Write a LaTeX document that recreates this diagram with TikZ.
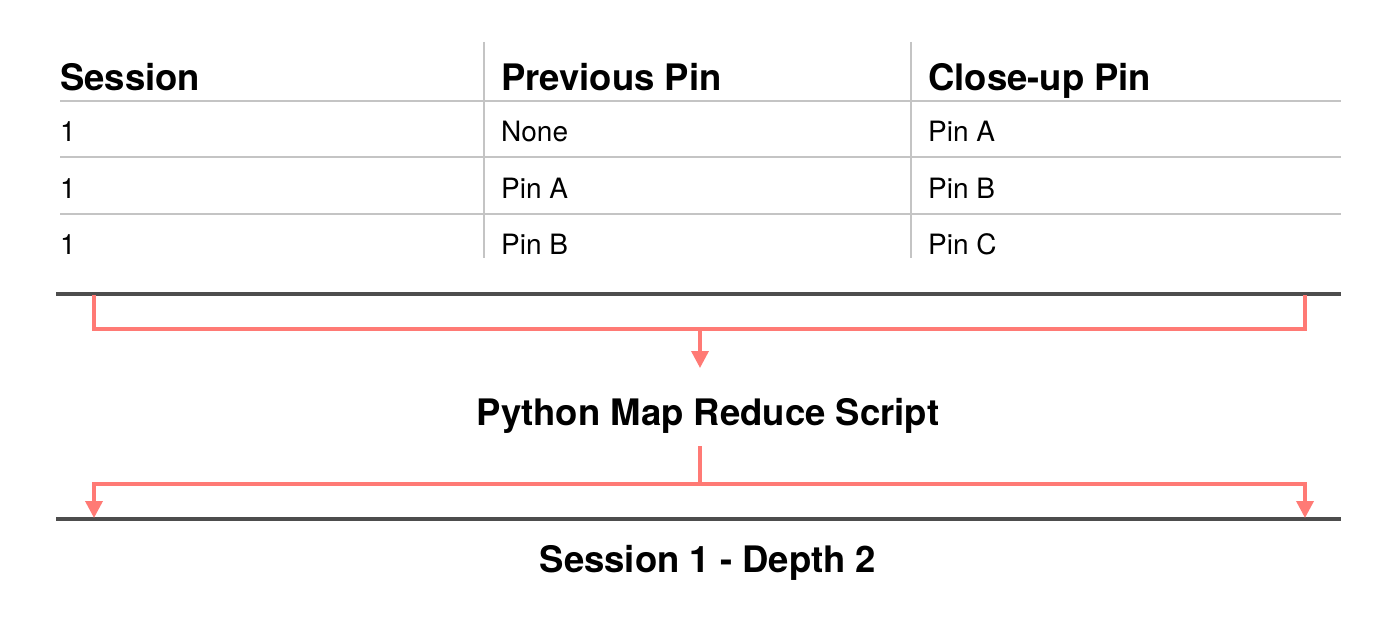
\documentclass[tikz,border=0pt]{standalone}
\usepackage{fontspec}
\setmainfont{TeX Gyre Heros}
\usetikzlibrary{arrows.meta}
\definecolor{pinkred}{HTML}{FF7A75}
\definecolor{darkline}{HTML}{4D4D4D}
\definecolor{gridgray}{HTML}{C4C4C4}
\begin{document}
\begin{tikzpicture}[x=1pt,y=-1pt,
  hdr/.style={anchor=base west,inner sep=0pt,font=\fontsize{36.5}{40}\selectfont\bfseries},
  cell/.style={anchor=base west,inner sep=0pt,font=\fontsize{28}{32}\selectfont},
  title/.style={anchor=base,inner sep=0pt,font=\fontsize{36.5}{40}\selectfont\bfseries},
  grid/.style={draw=gridgray,line width=1.5pt},
  bar/.style={draw=darkline,line width=3.5pt},
  flow/.style={draw=pinkred,line width=3.5pt},
  flowarrow/.style={flow,-{Triangle[width=17pt,length=17pt]}}]
\useasboundingbox (0,0) rectangle (1400,642);
% table grid
\draw[grid] (60,101) -- (1341,101);
\draw[grid] (60,157) -- (1341,157);
\draw[grid] (60,214) -- (1341,214);
\draw[grid] (484,42) -- (484,258);
\draw[grid] (911,42) -- (911,258);
% header
\node[hdr] (h1) at (60,91) {Session};
\node[hdr] (h2) at (501,91) {Previous Pin};
\node[hdr] (h3) at (928,91) {Close-up Pin};
% rows
\node[cell] (r11) at (60,141) {1};
\node[cell] (r12) at (501,141) {None};
\node[cell] (r13) at (928,141) {Pin A};
\node[cell] (r21) at (60,198) {1};
\node[cell] (r22) at (501,198) {Pin A};
\node[cell] (r23) at (928,198) {Pin B};
\node[cell] (r31) at (60,254) {1};
\node[cell] (r32) at (501,254) {Pin B};
\node[cell] (r33) at (928,254) {Pin C};
% bars
\coordinate (t1) at (56,294);
\coordinate (t2) at (1341,294);
\coordinate (b1) at (56,519);
\coordinate (b2) at (1341,519);
\draw[bar] (t1) -- (t2);
\draw[bar] (b1) -- (b2);
% top bracket
\coordinate (tl) at (94,295);
\coordinate (tr) at (1305,295);
\coordinate (tm) at (700,329);
\draw[flow] (tl) |- (tm) -| (tr);
\node[title] (py) at (708,425) {Python Map Reduce Script};
\coordinate (pyin) at (700,368);
\draw[flowarrow] (tm) -- (pyin);
% bottom split
\coordinate (pyout) at (700,446);
\coordinate (bm) at (700,484);
\coordinate (bl) at (94,518);
\coordinate (br) at (1305,518);
\draw[flow] (pyout) -- (bm);
\draw[flowarrow] (bm) -| (bl);
\draw[flowarrow] (bm) -| (br);
\node[title] (res) at (708,572) {Session 1 - Depth 2};
\end{tikzpicture}
\end{document}
